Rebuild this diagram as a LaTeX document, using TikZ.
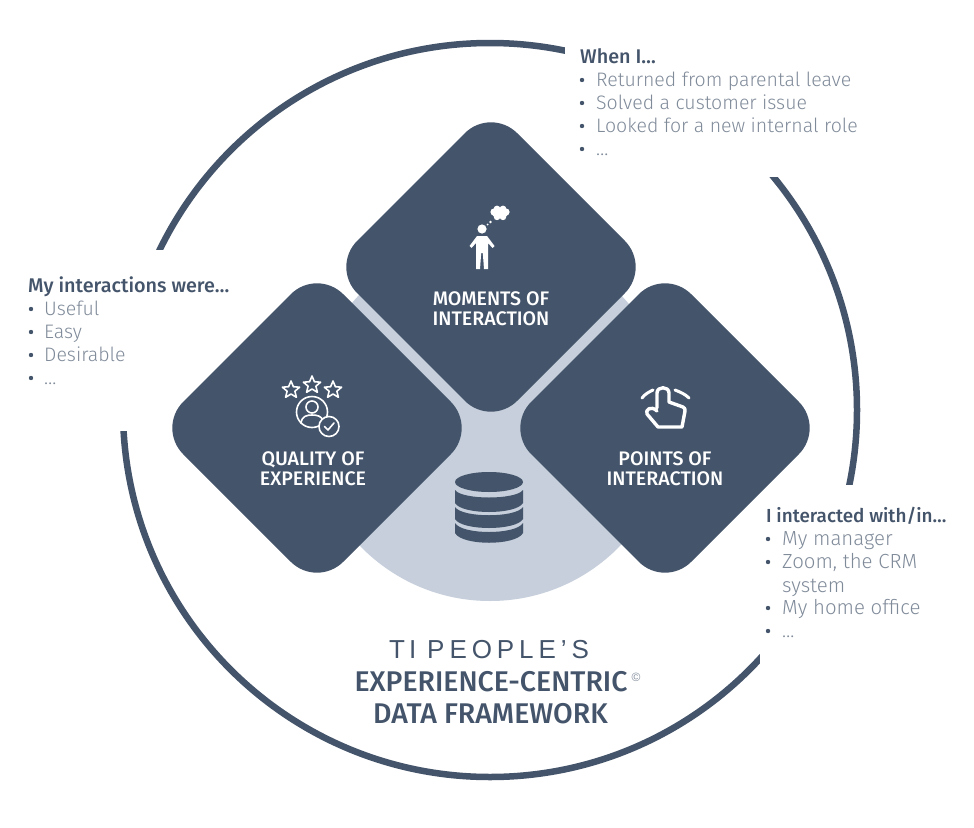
\documentclass[tikz,border=0pt]{standalone}
\usepackage{fontspec}
\usetikzlibrary{shapes.geometric}
\setmainfont{Liberation Sans}
\newfontfamily\headf{Fira Sans Medium}
\newfontfamily\itemf{Fira Sans Light}
\definecolor{navy}{HTML}{44546A}
\definecolor{pale}{HTML}{C6CFDB}
\definecolor{itemgray}{HTML}{808B9A}
\tikzset{
  x=1pt,y=-1pt,
  ringline/.style={draw=navy,line width=6.5pt},
  mask/.style={fill=white,draw=none},
  lozenge/.style={fill=navy,draw=none,rounded corners=37pt},
  boxlabel/.style={anchor=base,text=white,font=\headf\fontsize{19.6}{21}\selectfont,inner sep=0pt},
  headline/.style={anchor=base west,inner sep=0pt,text=navy,font=\headf\fontsize{19.8}{21}\selectfont},
  itemline/.style={anchor=base west,inner sep=0pt,text=itemgray,font=\itemf\fontsize{19.5}{22}\selectfont},
  itemlinewide/.style={itemline,font=\itemf\fontsize{20.4}{22}\selectfont},
  dotmark/.style={circle,fill=navy,minimum size=4.4pt,inner sep=0pt},
  titleline/.style={anchor=base,inner sep=0pt,text=navy,font=\headf\fontsize{28.5}{30}\selectfont},
  iconline/.style={draw=white,line width=2pt,line join=round,line cap=round,fill=none},
  iconfill/.style={fill=white,draw=none},
}
\newcommand{\lozengeat}[2]{\path[lozenge] (#1,#2-160) -- (#1+160,#2) -- (#1,#2+160) -- (#1-160,#2) -- cycle;}
\newcommand{\staricon}[2]{\draw[iconline,line width=1.6pt] (#1,#2-9)
  -- ++(2.4,5.7) -- ++(6.2,.5) -- ++(-4.7,4) -- ++(1.5,6.1) -- ++(-5.4,-3.3)
  -- ++(-5.4,3.3) -- ++(1.5,-6.1) -- ++(-4.7,-4) -- ++(6.2,-.5) -- cycle;}
\begin{document}
\begin{tikzpicture}
\useasboundingbox (0,0) rectangle (974,827);
\fill[white] (0,0) rectangle (974,827);

% outer ring and the white panels that interrupt it
\coordinate (hub) at (490,410);
\draw[ringline] (hub) circle[radius=367];
\fill[mask] (565,30) rectangle (880,177);
\fill[mask] (760,485) rectangle (965,665);
\fill[mask] (20,250) rectangle (235,431);

% pale disc
\fill[pale] (490,420) circle[radius=181];

% lozenges
\lozengeat{491}{267}
\lozengeat{317}{428}
\lozengeat{665}{428}

% person icon
\fill[white] (482,229) circle[radius=4.6];
\path[iconfill] (477,236) -- (487,236) -- (494.5,246) -- (492.5,248) -- (488,243)
  -- (488,269) -- (484,269) -- (482.8,253) -- (481.2,253) -- (480,269) -- (476,269)
  -- (476,243) -- (471.5,248) -- (469.5,246) -- cycle;
\fill[white] (500,213) ellipse[x radius=8,y radius=5.5];
\fill[white] (494,212) circle[radius=3.6] (506,212) circle[radius=3.6]
  (497,209) circle[radius=3.4] (503,209) circle[radius=3.4]
  (497,217) circle[radius=3.2] (503,217) circle[radius=3.2];
\fill[white] (490.5,222) circle[radius=1.3] (487.5,224.5) circle[radius=1];

% stars and rated-user icon
\staricon{291}{390}
\staricon{312}{385}
\staricon{333}{390}
\draw[iconline,line width=1.6pt] (312,412) circle[radius=15.5];
\draw[iconline,line width=1.6pt] (312,407) circle[radius=6];
\draw[iconline,line width=1.6pt] (301,423) .. controls (302,416) and (307,415) .. (312,415)
  .. controls (317,415) and (322,416) .. (323,421);
\draw[iconline,fill=navy,line width=1.6pt] (329,426.5) circle[radius=10];
\draw[iconline,line width=1.6pt] (324.5,426.5) -- (328,430) -- (334,423);

% hand icon
\draw[iconline,line width=3pt] (642,398) .. controls (645,394) and (649,392) .. (653,390);
\draw[iconline,line width=3pt] (675,390) .. controls (680,392) and (685,394) .. (689,398);
\draw[iconline,line width=3.4pt] (657,408) -- (657,393) .. controls (657,386) and (669,386) .. (669,393)
  -- (669,402) -- (683,407) .. controls (685,408) and (685,409) .. (685,411)
  -- (682,427) -- (658,427) -- (647,414) .. controls (645,410) and (651,405) .. (657,411);

% database icon
\fill[navy] (489,482) ellipse[x radius=34,y radius=10];
\fill[navy] (455,490) .. controls (462,500) and (516,500) .. (523,490) -- (523,503)
  .. controls (516,515) and (462,515) .. (455,503) -- cycle;
\fill[navy] (455,507) .. controls (462,518) and (516,518) .. (523,507) -- (523,519)
  .. controls (516,531) and (462,531) .. (455,519) -- cycle;
\fill[navy] (455,523) .. controls (462,535) and (516,535) .. (523,523) -- (523,533)
  .. controls (516,546) and (462,546) .. (455,533) -- cycle;

% lozenge labels
\node[boxlabel] (m1) at (491,305) {MOMENTS OF};
\node[boxlabel] (m2) at (491,325) {INTERACTION};
\node[boxlabel] (q1) at (313,465) {QUALITY OF};
\node[boxlabel] (q2) at (313,485) {EXPERIENCE};
\node[boxlabel] (p1) at (665,465) {POINTS OF};
\node[boxlabel] (p2) at (665,485) {INTERACTION};

% top list
\node[headline] (w0) at (580,63) {When I…};
\node[dotmark] (wd1) at (582,80) {}; \node[itemline] (w1) at (596,86) {Returned from parental leave};
\node[dotmark] (wd2) at (582,103) {}; \node[itemline] (w2) at (596,109) {Solved a customer issue};
\node[dotmark] (wd3) at (582,126) {}; \node[itemline] (w3) at (596,132) {Looked for a new internal role};
\node[dotmark] (wd4) at (582,149) {}; \node[itemline] (w4) at (596,155) {…};

% left list
\node[headline] (l0) at (28,292) {My interactions were…};
\node[dotmark] (ld1) at (31,309) {}; \node[itemline] (l1) at (44,315) {Useful};
\node[dotmark] (ld2) at (31,332) {}; \node[itemline] (l2) at (44,338) {Easy};
\node[dotmark] (ld3) at (31,355) {}; \node[itemline] (l3) at (44,361) {Desirable};
\node[dotmark] (ld4) at (31,378) {}; \node[itemline] (l4) at (44,384) {…};

% right list
\node[headline,font=\headf\fontsize{18.9}{21}\selectfont] (r0) at (766,522) {I interacted with/in…};
\node[dotmark] (rd1) at (768,539) {}; \node[itemlinewide] (r1) at (782,545) {My manager};
\node[dotmark] (rd2) at (768,562) {}; \node[itemlinewide] (r2) at (782,568) {Zoom, the CRM};
\node[itemlinewide] (r2b) at (782,592) {system};
\node[dotmark] (rd3) at (768,608) {}; \node[itemlinewide] (r3) at (782,614) {My home office};
\node[dotmark] (rd4) at (768,631) {}; \node[itemline] (r4) at (782,637) {…};

% title
\node[titleline,font=\fontsize{26}{28}\selectfont] (t0) at (489,658) {T\hspace{0.16em}I\hspace{0.42em}P\hspace{0.19em}E\hspace{0.19em}O\hspace{0.19em}P\hspace{0.19em}L\hspace{0.19em}E\hspace{0.19em}’\hspace{0.19em}S};
\node[titleline] (t1) at (491,691) {EXPERIENCE-CENTRIC};
\node[titleline] (t2) at (490.5,723) {DATA FRAMEWORK};
\node[inner sep=0pt,text=itemgray,font=\fontsize{12}{13}\selectfont] (tc) at (636,677) {©};
\end{tikzpicture}
\end{document}
